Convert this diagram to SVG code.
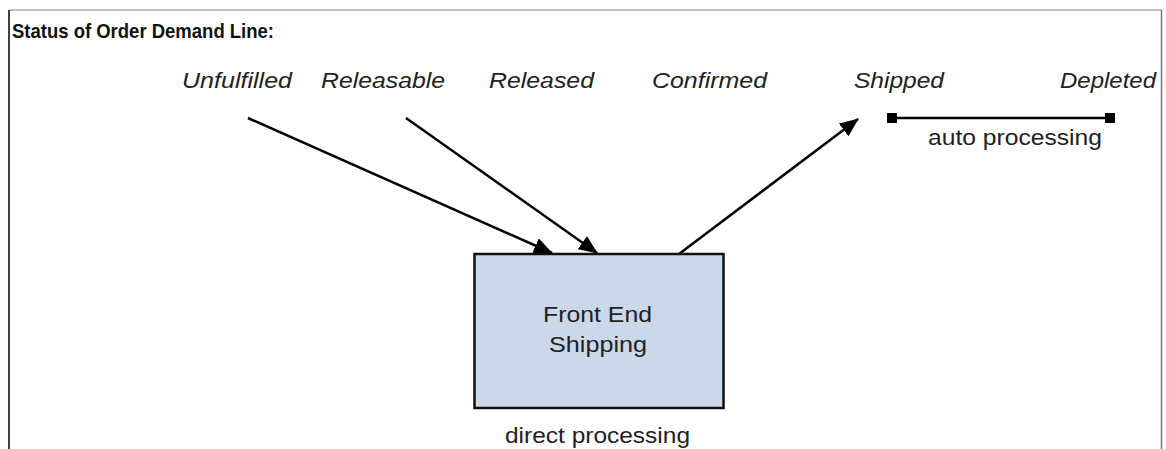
<svg xmlns="http://www.w3.org/2000/svg" width="1166" height="449" viewBox="0 0 1166 449">
<style>
text{font-family:"Liberation Sans",Arial,sans-serif;fill:#222}
.title{font-weight:bold;font-size:21px;fill:#111}
.st{font-style:italic;font-size:22px}
.lbl{font-size:22px}
.conn{stroke:#000;stroke-width:2.5;fill:none}
</style>
<defs>
<marker id="ah" markerUnits="userSpaceOnUse" markerWidth="19" markerHeight="16" refX="18" refY="8" orient="auto">
<path d="M0,0 L19,8 L0,16 Z" fill="#000"/>
</marker>
</defs>
<g id="frame">
<line x1="9" y1="10" x2="1162" y2="10" stroke="#aaa" stroke-width="1.5"/>
<line x1="9" y1="10" x2="9" y2="449" stroke="#000" stroke-width="1.5"/>
<line x1="1161.5" y1="10" x2="1161.5" y2="449" stroke="#777" stroke-width="1.5"/>
</g>
<text class="title" x="12" y="38" textLength="262" lengthAdjust="spacingAndGlyphs">Status of Order Demand Line:</text>
<g id="statuses">
<text class="st" x="182" y="88" textLength="110" lengthAdjust="spacingAndGlyphs">Unfulfilled</text>
<text class="st" x="321" y="88" textLength="124" lengthAdjust="spacingAndGlyphs">Releasable</text>
<text class="st" x="489" y="88" textLength="105" lengthAdjust="spacingAndGlyphs">Released</text>
<text class="st" x="652" y="88" textLength="115" lengthAdjust="spacingAndGlyphs">Confirmed</text>
<text class="st" x="854" y="88" textLength="90" lengthAdjust="spacingAndGlyphs">Shipped</text>
<text class="st" x="1060" y="88" textLength="96" lengthAdjust="spacingAndGlyphs">Depleted</text>
</g>
<g id="node-fes">
<rect x="474.5" y="254" width="249" height="154" fill="#cbd8ea" stroke="#111" stroke-width="2.5"/>
<text class="lbl" x="543" y="322" textLength="109" lengthAdjust="spacingAndGlyphs">Front End</text>
<text class="lbl" x="549" y="352" textLength="98" lengthAdjust="spacingAndGlyphs">Shipping</text>
</g>
<text id="direct" class="lbl" x="505" y="443" textLength="185" lengthAdjust="spacingAndGlyphs">direct processing</text>
<g id="auto">
<line x1="892" y1="118" x2="1110" y2="118" stroke="#000" stroke-width="2.5"/>
<rect x="887" y="113" width="10" height="10" fill="#000"/>
<rect x="1105" y="113" width="10" height="10" fill="#000"/>
<text class="lbl" x="928" y="145" textLength="174" lengthAdjust="spacingAndGlyphs">auto processing</text>
</g>
<g id="connectors">
<line class="conn" x1="248" y1="118" x2="552" y2="253" marker-end="url(#ah)"/>
<line class="conn" x1="406" y1="118" x2="597" y2="253" marker-end="url(#ah)"/>
<line class="conn" x1="679" y1="254" x2="858" y2="119" marker-end="url(#ah)"/>
</g>
</svg>
